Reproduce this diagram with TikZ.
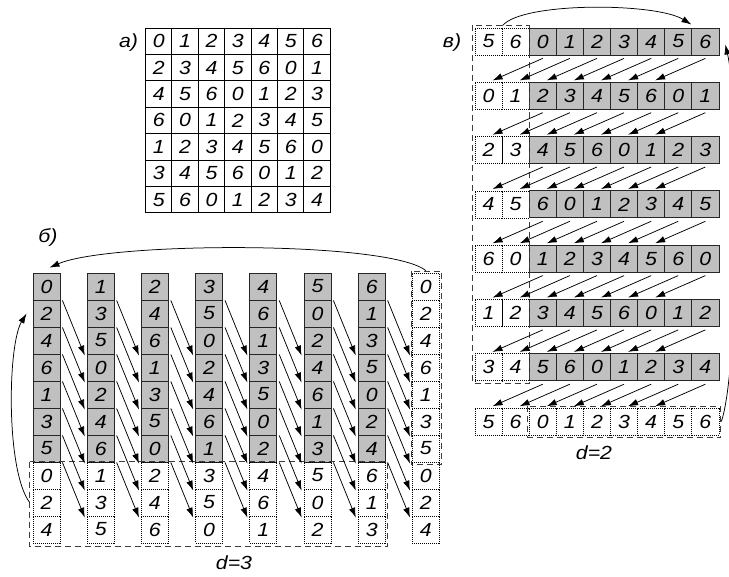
\documentclass[tikz,border=0pt]{standalone}
\usepackage{fontspec}
\setmainfont{Liberation Sans}[FakeStretch=1.12]
\usetikzlibrary{arrows.meta}
\definecolor{cellgray}{RGB}{192,192,192}
\definecolor{dashcol}{RGB}{60,60,60}
\tikzset{
  every node/.style={font=\fontsize{19}{22}\selectfont\itshape},
  tcell/.style={draw=black, line width=0.9pt, minimum width=26.4pt, minimum height=26.4pt, inner sep=0pt},
  gcell/.style={draw=black!85, fill=cellgray, line width=0.8pt, minimum width=27pt, minimum height=27pt, inner sep=0pt},
  dcell/.style={draw=black, dash pattern=on 1pt off 1pt, line width=0.7pt, minimum width=27pt, minimum height=27pt, inner sep=0pt},
  wide/.style={minimum width=27.1pt},
  dashbox/.style={draw=dashcol, dash pattern=on 6pt off 4pt, line width=0.9pt},
  arr/.style={-{Latex[length=10pt,width=6.5pt]}, line width=0.75pt},
}
\begin{document}
\begin{tikzpicture}[x=1pt,y=-1pt]
\useasboundingbox (0,0) rectangle (729,577);

% ---------- a) ----------
\node (la) at (128.5,43) {a)};
\foreach \i in {0,...,6}{
  \foreach \j in {0,...,6}{
    \pgfmathtruncatemacro{\v}{mod(\j+2*\i,7)}
    \node[tcell] (a-\i-\j) at ({158.7+26.4*\j},{41.2+26.4*\i}) {\v};
  }
}

% ---------- b) ----------
\node (lb) at (48,238) {б)};
\foreach \j in {0,...,6}{
  \foreach \r in {0,...,6}{
    \pgfmathtruncatemacro{\v}{mod(\j+2*\r,7)}
    \node[gcell] (b-\j-\r) at ({46.5+54.2*\j},{286.5+27*\r}) {\v};
  }
  \foreach \r in {7,8,9}{
    \pgfmathtruncatemacro{\v}{mod(\j+2*\r,7)}
    \node[dcell] (b-\j-\r) at ({46.5+54.2*\j},{286.5+27*\r}) {\v};
  }
}
\foreach \r in {0,...,9}{
  \pgfmathtruncatemacro{\v}{mod(2*\r,7)}
  \node[dcell] (b-7-\r) at (425.9,{286.5+27*\r}) {\v};
}
\draw[dashbox] ([xshift=-3pt]b-0-7.north west) rectangle ([xshift=2pt,yshift=-3pt]b-6-9.south east);
\draw[dashbox] ([xshift=-1pt,yshift=1.5pt]b-7-0.north west) rectangle ([xshift=2pt,yshift=-2.5pt]b-7-6.south east);
\foreach \j [evaluate=\j as \jj using int(\j+1)] in {0,...,6}{
  \foreach \r [evaluate=\r as \rr using int(\r+3)] in {0,...,6}{
    \draw[arr] ([xshift=2pt]b-\j-\r.south east) -- ([xshift=-2pt,yshift=-2pt]b-\jj-\rr.north west);
  }
}
\draw[arr] ([yshift=2pt]b-7-0.north) .. controls +(-37,-30) and +(60,-26) .. ([xshift=3pt,yshift=5pt]b-0-0.north);
\draw[arr] ([xshift=-3pt]b-0-8.west) .. controls +(-24,-32) and +(-19,31) .. ([xshift=-6pt]b-0-1.west);
\node (d3) at (234,563) {d=3};

% ---------- v) ----------
\node (lc) at (452,43) {в)};
\foreach \i in {0,...,6}{
  \foreach \p in {0,1}{
    \pgfmathtruncatemacro{\v}{mod(\p+5+2*\i,7)}
    \node[dcell,wide] (c-\i-\p) at ({488.55+27.1*\p},{41.5+54.3*\i}) {\v};
  }
  \foreach \p in {2,...,8}{
    \pgfmathtruncatemacro{\v}{mod(\p+5+2*\i,7)}
    \node[gcell,wide] (c-\i-\p) at ({488.55+27.1*\p},{41.5+54.3*\i}) {\v};
  }
}
\foreach \p in {0,...,8}{
  \pgfmathtruncatemacro{\v}{mod(\p+5,7)}
  \node[dcell,wide] (c-7-\p) at ({488.55+27.1*\p},{41.5+54.3*7}) {\v};
}
\draw[dashbox] ([xshift=-2pt,yshift=2.5pt]c-0-0.north west) rectangle ([yshift=-2pt]c-6-1.south east);
\draw[dashbox] ([xshift=-1pt,yshift=1.5pt]c-7-2.north west) rectangle ([xshift=1.5pt,yshift=-2pt]c-7-8.south east);
\foreach \i [evaluate=\i as \ii using int(\i+1)] in {0,...,6}{
  \foreach \p [evaluate=\p as \pp using int(\p-2)] in {2,...,8}{
    \draw[arr] ([yshift=-3pt]c-\i-\p.south) -- ([xshift=4pt,yshift=1.5pt]c-\ii-\pp.north);
  }
}
\draw[arr] ([yshift=2pt]c-0-0.north east) .. controls +(20,-24) and +(-35,-22) .. ([yshift=3pt]c-0-8.north west);
\draw[arr] ([xshift=2pt]c-7-8.east) .. controls +(18,-50) and +(14,60) .. ([xshift=6pt,yshift=-3pt]c-0-8.east);
\node (d2) at (594,453) {d=2};
\end{tikzpicture}
\end{document}
